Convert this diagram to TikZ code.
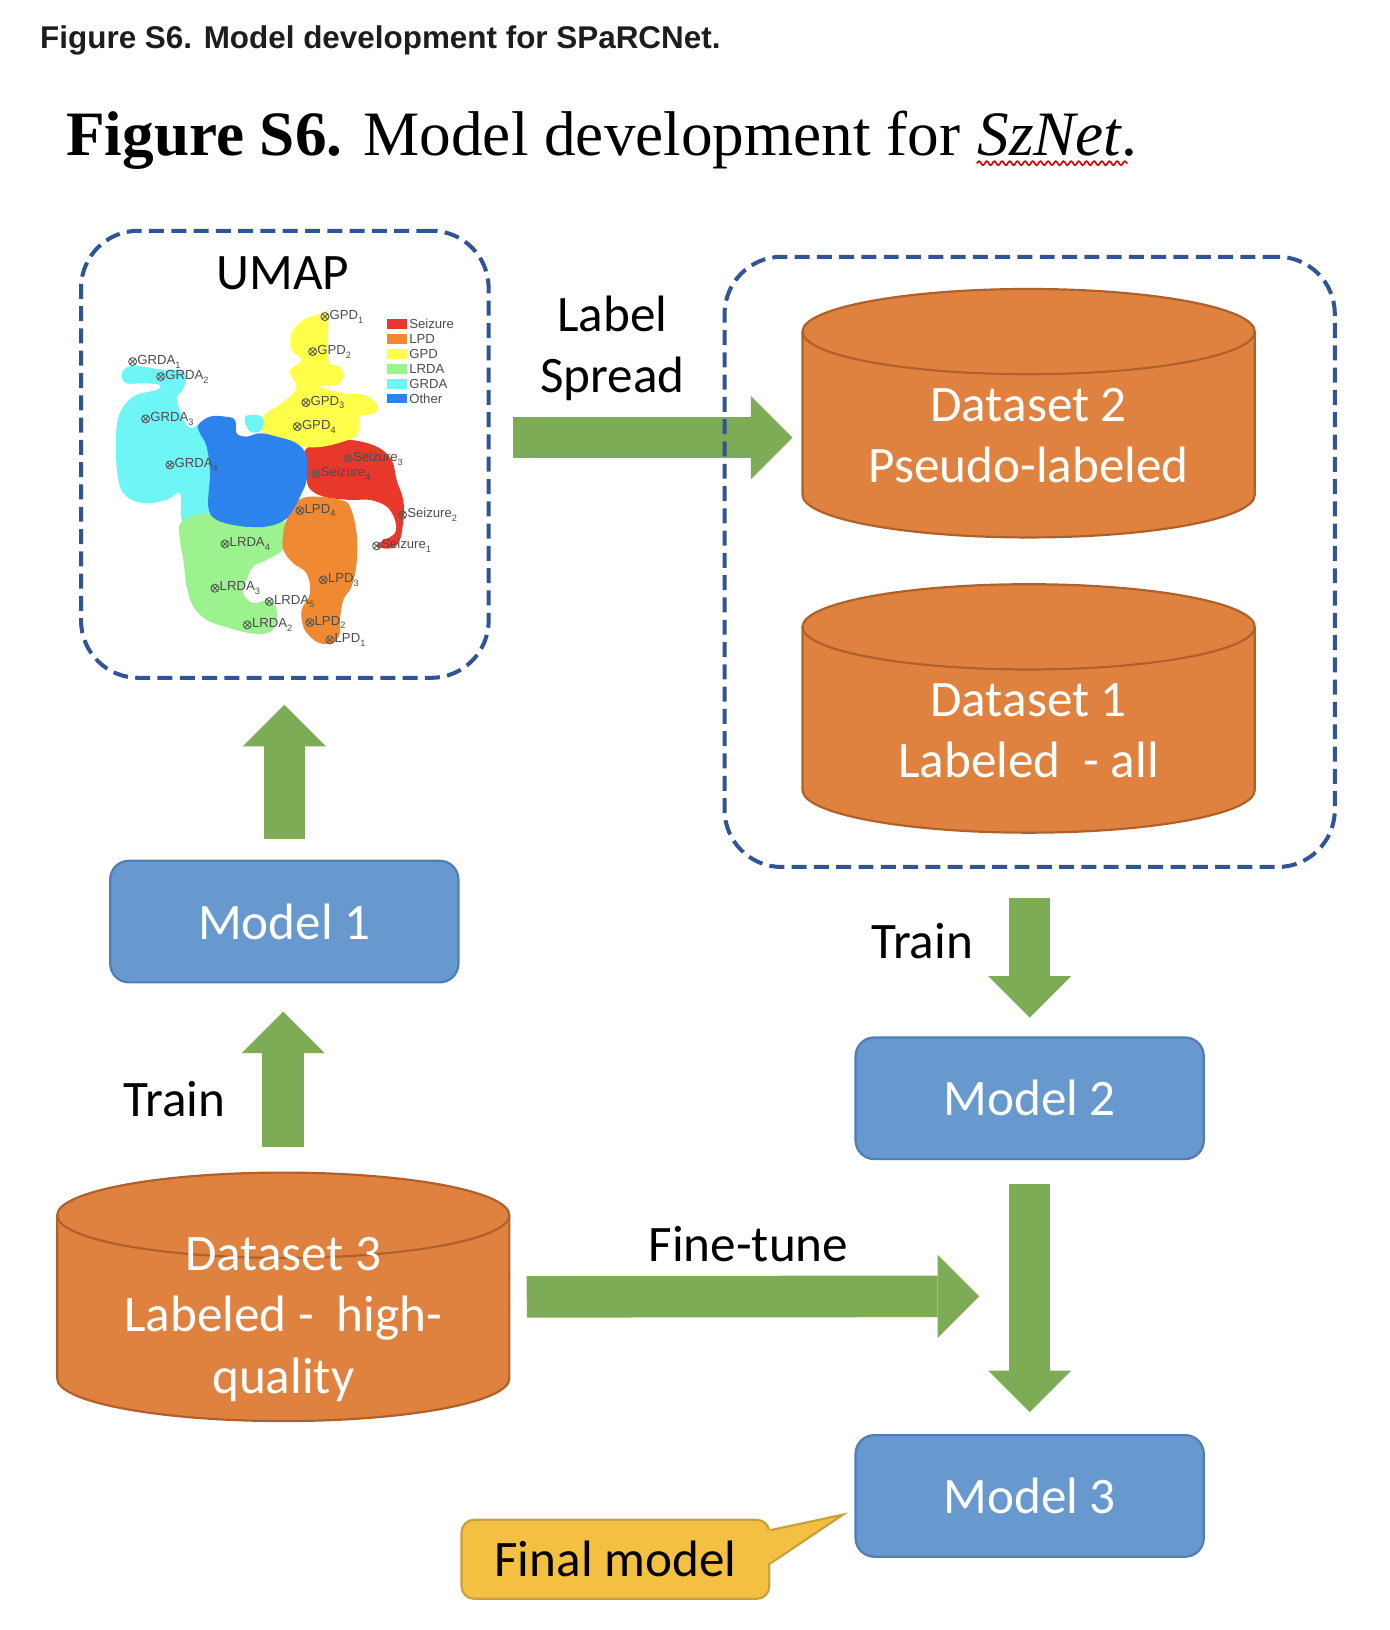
\documentclass[tikz,border=0pt]{standalone}
\usepackage{fontspec}
\usepackage{tikz}
\usetikzlibrary{arrows.meta,calc,positioning,backgrounds,decorations.pathmorphing}

\newfontfamily\calfont{Carlito}
\newfontfamily\arialfont{Liberation Sans}
\newfontfamily\timesfont{Liberation Serif}

\definecolor{boxblue}{HTML}{2F5597}
\definecolor{dsorange}{HTML}{E0823F}
\definecolor{dsedge}{HTML}{B0612B}
\definecolor{modelblue}{HTML}{6799CE}
\definecolor{modeledge}{HTML}{4F7DB5}
\definecolor{arrowgreen}{HTML}{7EAB55}
\definecolor{calloutyellow}{HTML}{F4C042}
\definecolor{calloutedge}{HTML}{C9A13A}
\definecolor{titlegray}{HTML}{1D1D1F}
\definecolor{umapred}{HTML}{E8382B}
\definecolor{umaporange}{HTML}{EF8A32}
\definecolor{umapyellow}{HTML}{FFFF4A}
\definecolor{umapgreen}{HTML}{9CF28E}
\definecolor{umapcyan}{HTML}{6EF6F6}
\definecolor{umapblue}{HTML}{2D83EC}

\newcommand{\diagfont}{\calfont\fontsize{14}{16.8}\selectfont}
\newcommand{\umapfont}{\arialfont\fontsize{3.6}{4}\selectfont}

% database cylinder: name, x, top y, text
\newcommand{\dbcyl}[4]{%
  \path[dbbody] (#2-2.175,#3+0.41) -- (#2-2.175,#3+1.98)
    arc[start angle=180,end angle=360,x radius=2.175cm,y radius=0.41cm]
    -- (#2+2.175,#3+0.41)
    arc[start angle=0,end angle=180,x radius=2.175cm,y radius=0.41cm] -- cycle;
  \draw[dbedge] (#2-2.175,#3+0.41)
    arc[start angle=180,end angle=360,x radius=2.175cm,y radius=0.41cm];
  \node[minimum width=4.35cm,minimum height=2.39cm,inner sep=0pt] (#1) at (#2,#3+1.195) {};
  \node[dbtext] (#1txt) at (#2,#3+1.41) {#4};
}

\begin{document}
\begin{tikzpicture}[x=1cm,y=-1cm,
  dashbox/.style={draw=boxblue,line width=1.1pt,dash pattern=on 4.1pt off 2pt,rounded corners=0.55cm,inner sep=0pt},
  model/.style={rectangle,rounded corners=0.18cm,fill=modelblue,draw=modeledge,line width=0.6pt,
    text=white,font=\diagfont,minimum width=3.35cm,minimum height=1.17cm},
  dbbody/.style={fill=dsorange,draw=dsedge,line width=0.6pt},
  dbedge/.style={draw=dsedge,line width=0.6pt},
  dbtext/.style={text=white,font=\diagfont,align=center},
  lbl/.style={font=\diagfont,align=center},
  fatarrow/.style={draw=arrowgreen,line width=0.4cm,-{Triangle[width=0.8cm,length=0.4cm,line width=0pt]}},
  callout/.style={rectangle,rounded corners=0.12cm,fill=calloutyellow,draw=calloutedge,line width=0.6pt,
    font=\diagfont,minimum width=2.96cm,minimum height=0.76cm},
  blob/.style={smooth cycle,tension=0.6},
  umaplbl/.style={font=\umapfont,text=black!70,inner sep=0pt,anchor=west}]

\useasboundingbox (0,0) rectangle (13.37,15.68);

%---------------- Titles ----------------
\node[anchor=base west,inner sep=0pt,text=titlegray,
  font=\arialfont\bfseries\fontsize{8.6}{10}\selectfont] (cap) at (0.38,0.47)
  {Figure S6. Model development for SPaRCNet.};
\node[anchor=base west,inner sep=0pt,font=\timesfont\fontsize{17.3}{21}\selectfont] (ttl) at (0.63,1.50)
  {\textbf{Figure S6.} Model development for};
\node[anchor=base west,inner sep=0pt,font=\timesfont\fontsize{17.3}{21}\selectfont] (sz)
  at ([xshift=0.15cm]ttl.base east) {\textit{SzNet}.};
\draw[red!85!black,line width=0.45pt,decorate,decoration={snake,amplitude=0.55pt,segment length=2.1pt}]
  ([yshift=-0.07cm]sz.base west) -- ([xshift=-0.1cm,yshift=-0.07cm]sz.base east);

%---------------- UMAP panel ----------------
\node[dashbox,minimum width=3.92cm,minimum height=4.30cm] (umap) at (2.74,4.37) {};
\node[lbl] (umaptitle) at (2.72,2.63) {UMAP};

\begin{scope}[shift={(0.6733,2.116)},x=0.03206cm,y=-0.03206cm]
% clusters
\fill[umapcyan] plot[blob] coordinates {(15.5,46.5) (17.5,44) (22,44) (28,45) (33.5,45) (34.8,48)
  (33.5,51.5) (32,53.5) (33.5,58.5) (36,62.5) (39.5,61) (42,64) (42,88) (36,90.5) (33.5,90)
  (33,82) (29,84) (22,85) (16,82) (14,74) (14,62) (16,56) (20,52.5) (26,51) (27,49.5) (22,49) (17,49)};
\fill[umapgreen] plot[blob] coordinates {(33.5,90.5) (42,88) (52,92) (59,92) (64.5,90.5) (64,98.5)
  (59,102) (55,104) (53,108) (52,112) (55,115) (60,114) (62,117) (61.5,122) (59,124) (54,124)
  (48,122.5) (41,120) (37,116) (35,110) (34,102) (33,96)};
\fill[umaporange] plot[blob] coordinates {(67.5,85) (72,83) (81,84) (84,86) (86,94) (86,103)
  (84.5,110) (82,114) (81,120) (81,124) (79,127) (75,127) (72,125) (70,122) (69.5,117) (72,112)
  (71,106) (67,103) (64,99) (64,94) (65,90)};
\fill[umapred] plot[blob] coordinates {(70.5,69) (76,67) (84,66) (92,68) (96.5,72) (98,78) (100,84)
  (100,90) (99,96) (96.5,98.5) (92,98) (93.5,96.5) (97.5,94) (97.5,90) (95,86) (90,84) (84,84)
  (76,83) (71.5,80) (71,74)};
\fill[umapyellow] plot[blob] coordinates {(76,28) (77.5,28) (77.5,42) (81,44) (82,47) (80,49.5)
  (75,50) (82,52) (88,52.5) (92,55) (91.5,58) (87,59) (86.5,64) (83.5,66) (76,68) (70,68) (64,66)
  (58,64) (58,59) (62,56) (66,53) (68,50) (66.5,47) (66,45) (69.5,42) (66.5,39) (66.5,34) (70,30)};
\fill[umapblue] plot[blob] coordinates {(38.5,61.5) (42,59) (46.5,59) (49.5,60) (50,64) (53,65)
  (57,64) (62,65) (68,67) (71,71) (71,78) (69.5,82) (67.5,86) (64.5,90) (59,92) (52,92) (44,90)
  (41.5,86) (42,76) (41,68) (39,64)};
\fill[umapcyan] plot[blob] coordinates {(52.5,59) (57.5,59) (57.5,63) (54,63.5)};

% legend
\foreach \ly/\lc/\lt in {31.2/umapred/Seizure,35.7/umaporange/LPD,40.2/umapyellow/GPD,
  44.7/umapgreen/LRDA,49.2/umapcyan/GRDA,53.6/umapblue/Other}{
  \fill[\lc] (95,\ly-1.4) rectangle (101,\ly+1.4);
  \node[umaplbl] (lg\lt) at (101.6,\ly) {\lt};
}

% cluster marks
\foreach \mx/\my/\mt/\mk in {76.5/29/GPD/1,72.8/39.5/GPD/2,70.8/54.8/GPD/3,68.2/62/GPD/4,
  18.8/42.5/GRDA/1,27.2/47/GRDA/2,22.7/59.7/GRDA/3,30/73.5/GRDA/4,
  83.5/71.6/Seizure/3,73.8/76.2/Seizure/4,99.8/88.5/Seizure/2,92/97.8/Seizure/1,
  69/87.2/LPD/4,76/108/LPD/3,72/120.8/LPD/2,78/126/LPD/1,
  46.5/97.2/LRDA/4,43.5/110.5/LRDA/3,59.8/114.5/LRDA/5,53.2/121.5/LRDA/2}{
  \draw[black!65,line width=0.25pt] (\mx,\my) circle (1.2)
    (\mx-0.85,\my-0.85) -- (\mx+0.85,\my+0.85) (\mx-0.85,\my+0.85) -- (\mx+0.85,\my-0.85);
  \node[umaplbl] (\mt\mk) at (\mx+1.2,\my) {\mt\textsubscript{\mk}};
}
\end{scope}

%---------------- Datasets ----------------
\node[dashbox,minimum width=5.87cm,minimum height=5.87cm] (dsbox) at (9.905,5.405) {};
\dbcyl{ds2}{9.895}{2.78}{Dataset 2\\Pseudo-labeled}
\dbcyl{ds1}{9.895}{5.62}{Dataset 1\\Labeled\ \ - all}
\dbcyl{ds3}{2.725}{11.28}{Dataset 3\\Labeled -\ \ high-\\quality}

%---------------- Models ----------------
\node[model] (m1) at (2.735,8.865) {Model 1};
\node[model] (m2) at (9.905,10.565) {Model 2};
\node[model] (m3) at (9.905,14.39) {Model 3};

% Final model callout
\node[callout] (fm) at (5.92,15.00) {Final model};
\coordinate (fmtip) at ($(m3.west)+(-0.11,0.18)$);
\fill[calloutyellow] ([xshift=-0.6pt,yshift=-0.11cm]fm.north east) -- (fmtip)
  -- ([xshift=-0.6pt,yshift=-0.43cm]fm.north east) -- cycle;
\draw[calloutedge,line width=0.6pt] ([yshift=-0.11cm]fm.north east) -- (fmtip)
  -- ([yshift=-0.43cm]fm.north east);

%---------------- Arrows and labels ----------------
\begin{pgfonlayer}{background}
\draw[fatarrow,shorten <=0.22cm,shorten >=0.09cm] ([yshift=0.16cm]umap.east)
  -- ([yshift=0.16cm]umap.east -| ds2.west);
\end{pgfonlayer}
\node[lbl] (spreadlbl) at (5.89,3.35) {Label\\Spread};

\draw[fatarrow,shorten <=0.2cm,shorten >=0.24cm] (m1.north) -- (m1.north |- umap.south);
\draw[fatarrow,shorten <=0.24cm,shorten >=0.27cm] (ds3.north) -- (ds3.north |- m1.south);
\node[lbl] (trainl) at (1.68,10.57) {Train};

\draw[fatarrow,shorten <=0.28cm,shorten >=0.18cm] (dsbox.south) -- (m2.north);
\node[lbl] (trainr) at (8.87,9.05) {Train};

\draw[fatarrow,shorten <=0.23cm,shorten >=0.21cm] (m2.south) -- (m3.north);

\coordinate (tuneend) at (9.42,12.47);
\draw[fatarrow,shorten <=0.16cm] (ds3.east) -- (tuneend);
\node[lbl] (tunelbl) at (7.20,11.97) {Fine-tune};

\end{tikzpicture}
\end{document}
